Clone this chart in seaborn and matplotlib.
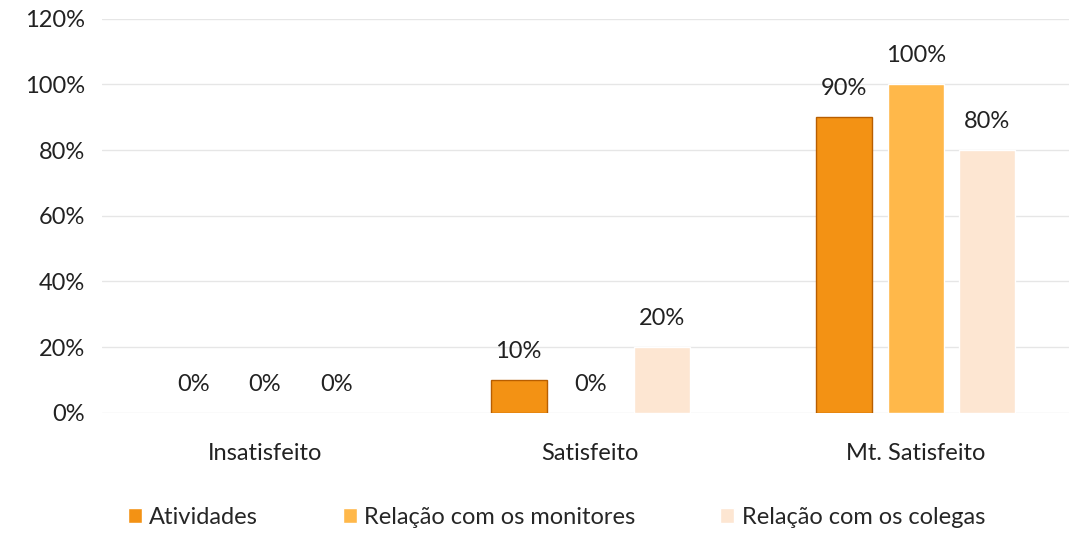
import numpy as np
import pandas as pd
import seaborn as sns
import matplotlib.pyplot as plt
from matplotlib.ticker import FuncFormatter

categorias = ["Insatisfeito", "Satisfeito", "Mt. Satisfeito"]
series = ["Atividades", "Relação com os monitores", "Relação com os colegas"]
atividades = [0, 10, 90]
monitores = [0, 0, 100]
colegas = [0, 20, 80]

cores = ["#F39214", "#FFB84A", "#FDE6D2"]

df = pd.DataFrame({
    "categoria": categorias * 3,
    "serie": [series[0]] * 3 + [series[1]] * 3 + [series[2]] * 3,
    "valor": atividades + monitores + colegas,
})

sns.set_style("white")
plt.rcParams['font.family'] = ['Lato', 'DejaVu Sans']

fig, ax = plt.subplots(figsize=(10.74, 5.36), dpi=100)
sns.barplot(data=df, x="categoria", y="valor", hue="serie", hue_order=series,
            palette=cores, width=0.66, gap=0.22, saturation=1, ax=ax, zorder=3)

# borda mais escura só na primeira série (e só onde há barra)
for p in ax.containers[0]:
    if p.get_height() > 0:
        p.set_edgecolor("#B85E00")
        p.set_linewidth(1.0)

for cont in ax.containers:
    ax.bar_label(cont, labels=[f"{v:.0f}%" for v in cont.datavalues],
                 padding=13, fontsize=17, color="#222222")

ax.set_ylim(0, 120)
ax.set_yticks(np.arange(0, 121, 20))
ax.yaxis.set_major_formatter(FuncFormatter(lambda v, _: f"{v:.0f}%"))
ax.set_xlim(-0.5, 2.47)
ax.grid(axis="y", color="#E6E6E6", linewidth=1, zorder=0)
ax.set_xlabel("")
ax.set_ylabel("")
ax.tick_params(axis="both", length=0, labelsize=17, labelcolor="#222222", pad=12)
ax.tick_params(axis="x", pad=22)
for s in ax.spines.values():
    s.set_visible(False)

leg = ax.legend(loc="upper center", bbox_to_anchor=(0.47, -0.185), ncol=3, frameon=False,
                fontsize=17, handlelength=0.6, handleheight=0.6, handletextpad=0.3,
                columnspacing=3.6)

plt.subplots_adjust(left=0.095, right=0.995, top=0.965, bottom=0.23)
plt.savefig("out.png", dpi=100)
